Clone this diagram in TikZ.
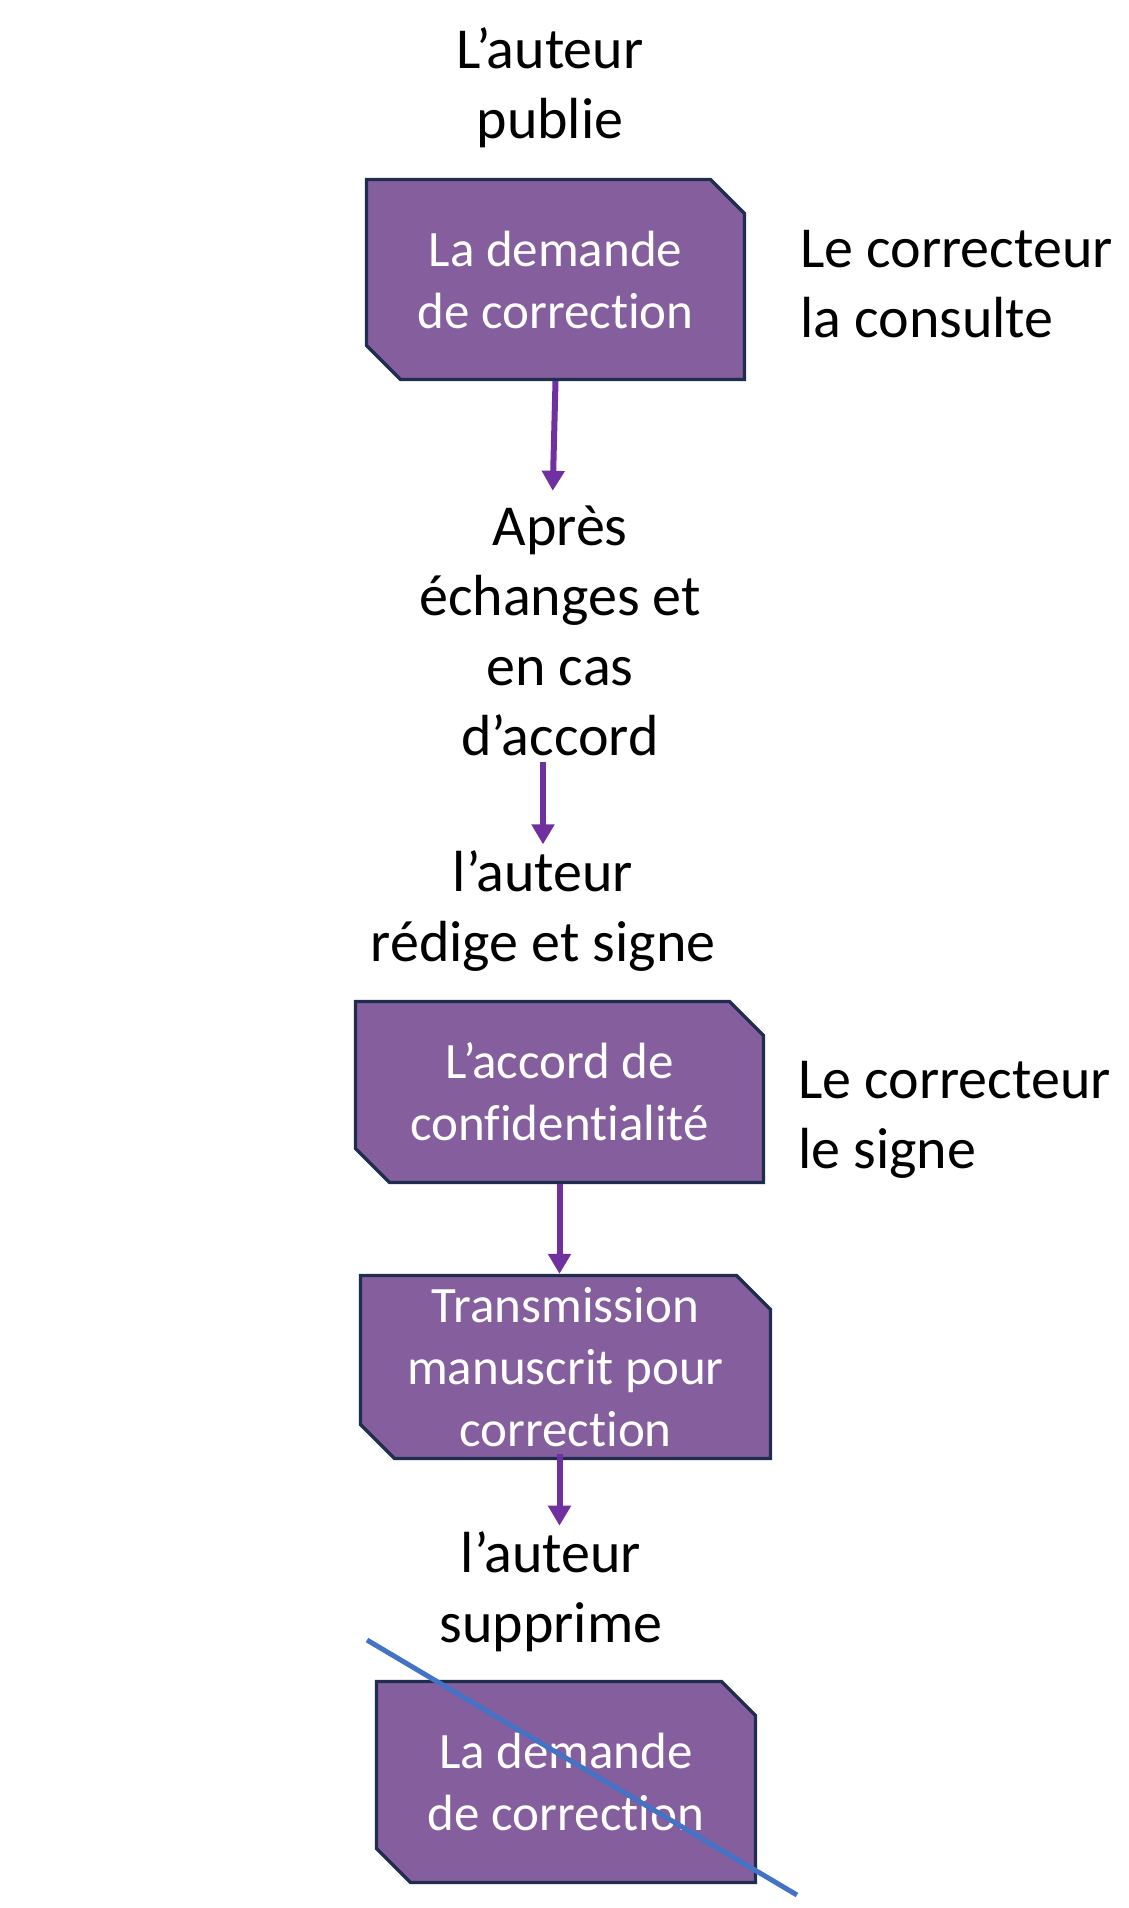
\documentclass[tikz,border=0pt]{standalone}
\usepackage{fontspec}
\setmainfont{Carlito}[Ligatures=NoCommon]
\usepackage{tikz}
\usetikzlibrary{shapes.misc,arrows.meta}

\definecolor{boxfill}{RGB}{133,94,158}
\definecolor{boxline}{RGB}{31,45,78}
\definecolor{flowcol}{RGB}{112,48,160}
\definecolor{strikecol}{RGB}{68,114,196}

\begin{document}
\begin{tikzpicture}[x=1pt,y=-1pt,
        docbox/.style={chamfered rectangle,chamfered rectangle corners={north east,south west},
            chamfered rectangle sep=17pt,draw=boxline,line width=3.3pt,fill=boxfill,
            text=white,align=center,inner xsep=0pt,inner ysep=-12pt,font=\fontsize{51}{62}\selectfont},
        label/.style={align=center,inner sep=6pt,font=\fontsize{58}{70}\selectfont},
        flow/.style={draw=flowcol,line width=6pt,-{Triangle[length=20pt,width=22pt]}}]
    \useasboundingbox (0,0) rectangle (1129,1908);

    % Texts
    \node[label] (publie) at (550,88) {L’auteur\\publie};
    \node[label,anchor=west,align=left,inner sep=0pt] (consulte) at (800,284) {Le correcteur\\la consulte};
    \node[label] (apres) at (560,631) {Après\\échanges et\\en cas\\d’accord};
    \node[label] (redige) at (543,911) {l’auteur\\rédige et signe};
    \node[label,anchor=west,align=left,inner sep=0pt] (signe) at (798,1120) {Le correcteur\\le signe};
    \node[label] (supprime) at (551,1592) {l’auteur\\supprime};

    % Boxes
    \node[docbox,minimum width=378pt,minimum height=200pt] (demande) at (555.5,279.5) {La demande\\de correction};
    \node[docbox,minimum width=408pt,minimum height=181pt] (accord) at (559.5,1092) {L’accord de\\confidentialité};
    \node[docbox,minimum width=410pt,minimum height=183pt] (transmission) at (565.5,1367) {Transmission\\manuscrit pour\\correction};
    \node[docbox,minimum width=379pt,minimum height=201pt] (demande2) at (566,1782) {La demande\\de correction};

    % Arrows
    \draw[flow,shorten >=9pt] (demande.south) -- ([xshift=-3pt]apres.north -| demande.south);
    \draw[flow] (apres.south -| redige.north) -- (redige.north);
    \draw[flow] (accord.south) -- (accord.south |- transmission.north);
    \draw[flow] ([yshift=6pt]transmission.south -| accord.south) -- (accord.south |- supprime.north);

    % Struck out
    \draw[strikecol,line width=5pt] (367,1640) -- (797,1895);
\end{tikzpicture}
\end{document}
